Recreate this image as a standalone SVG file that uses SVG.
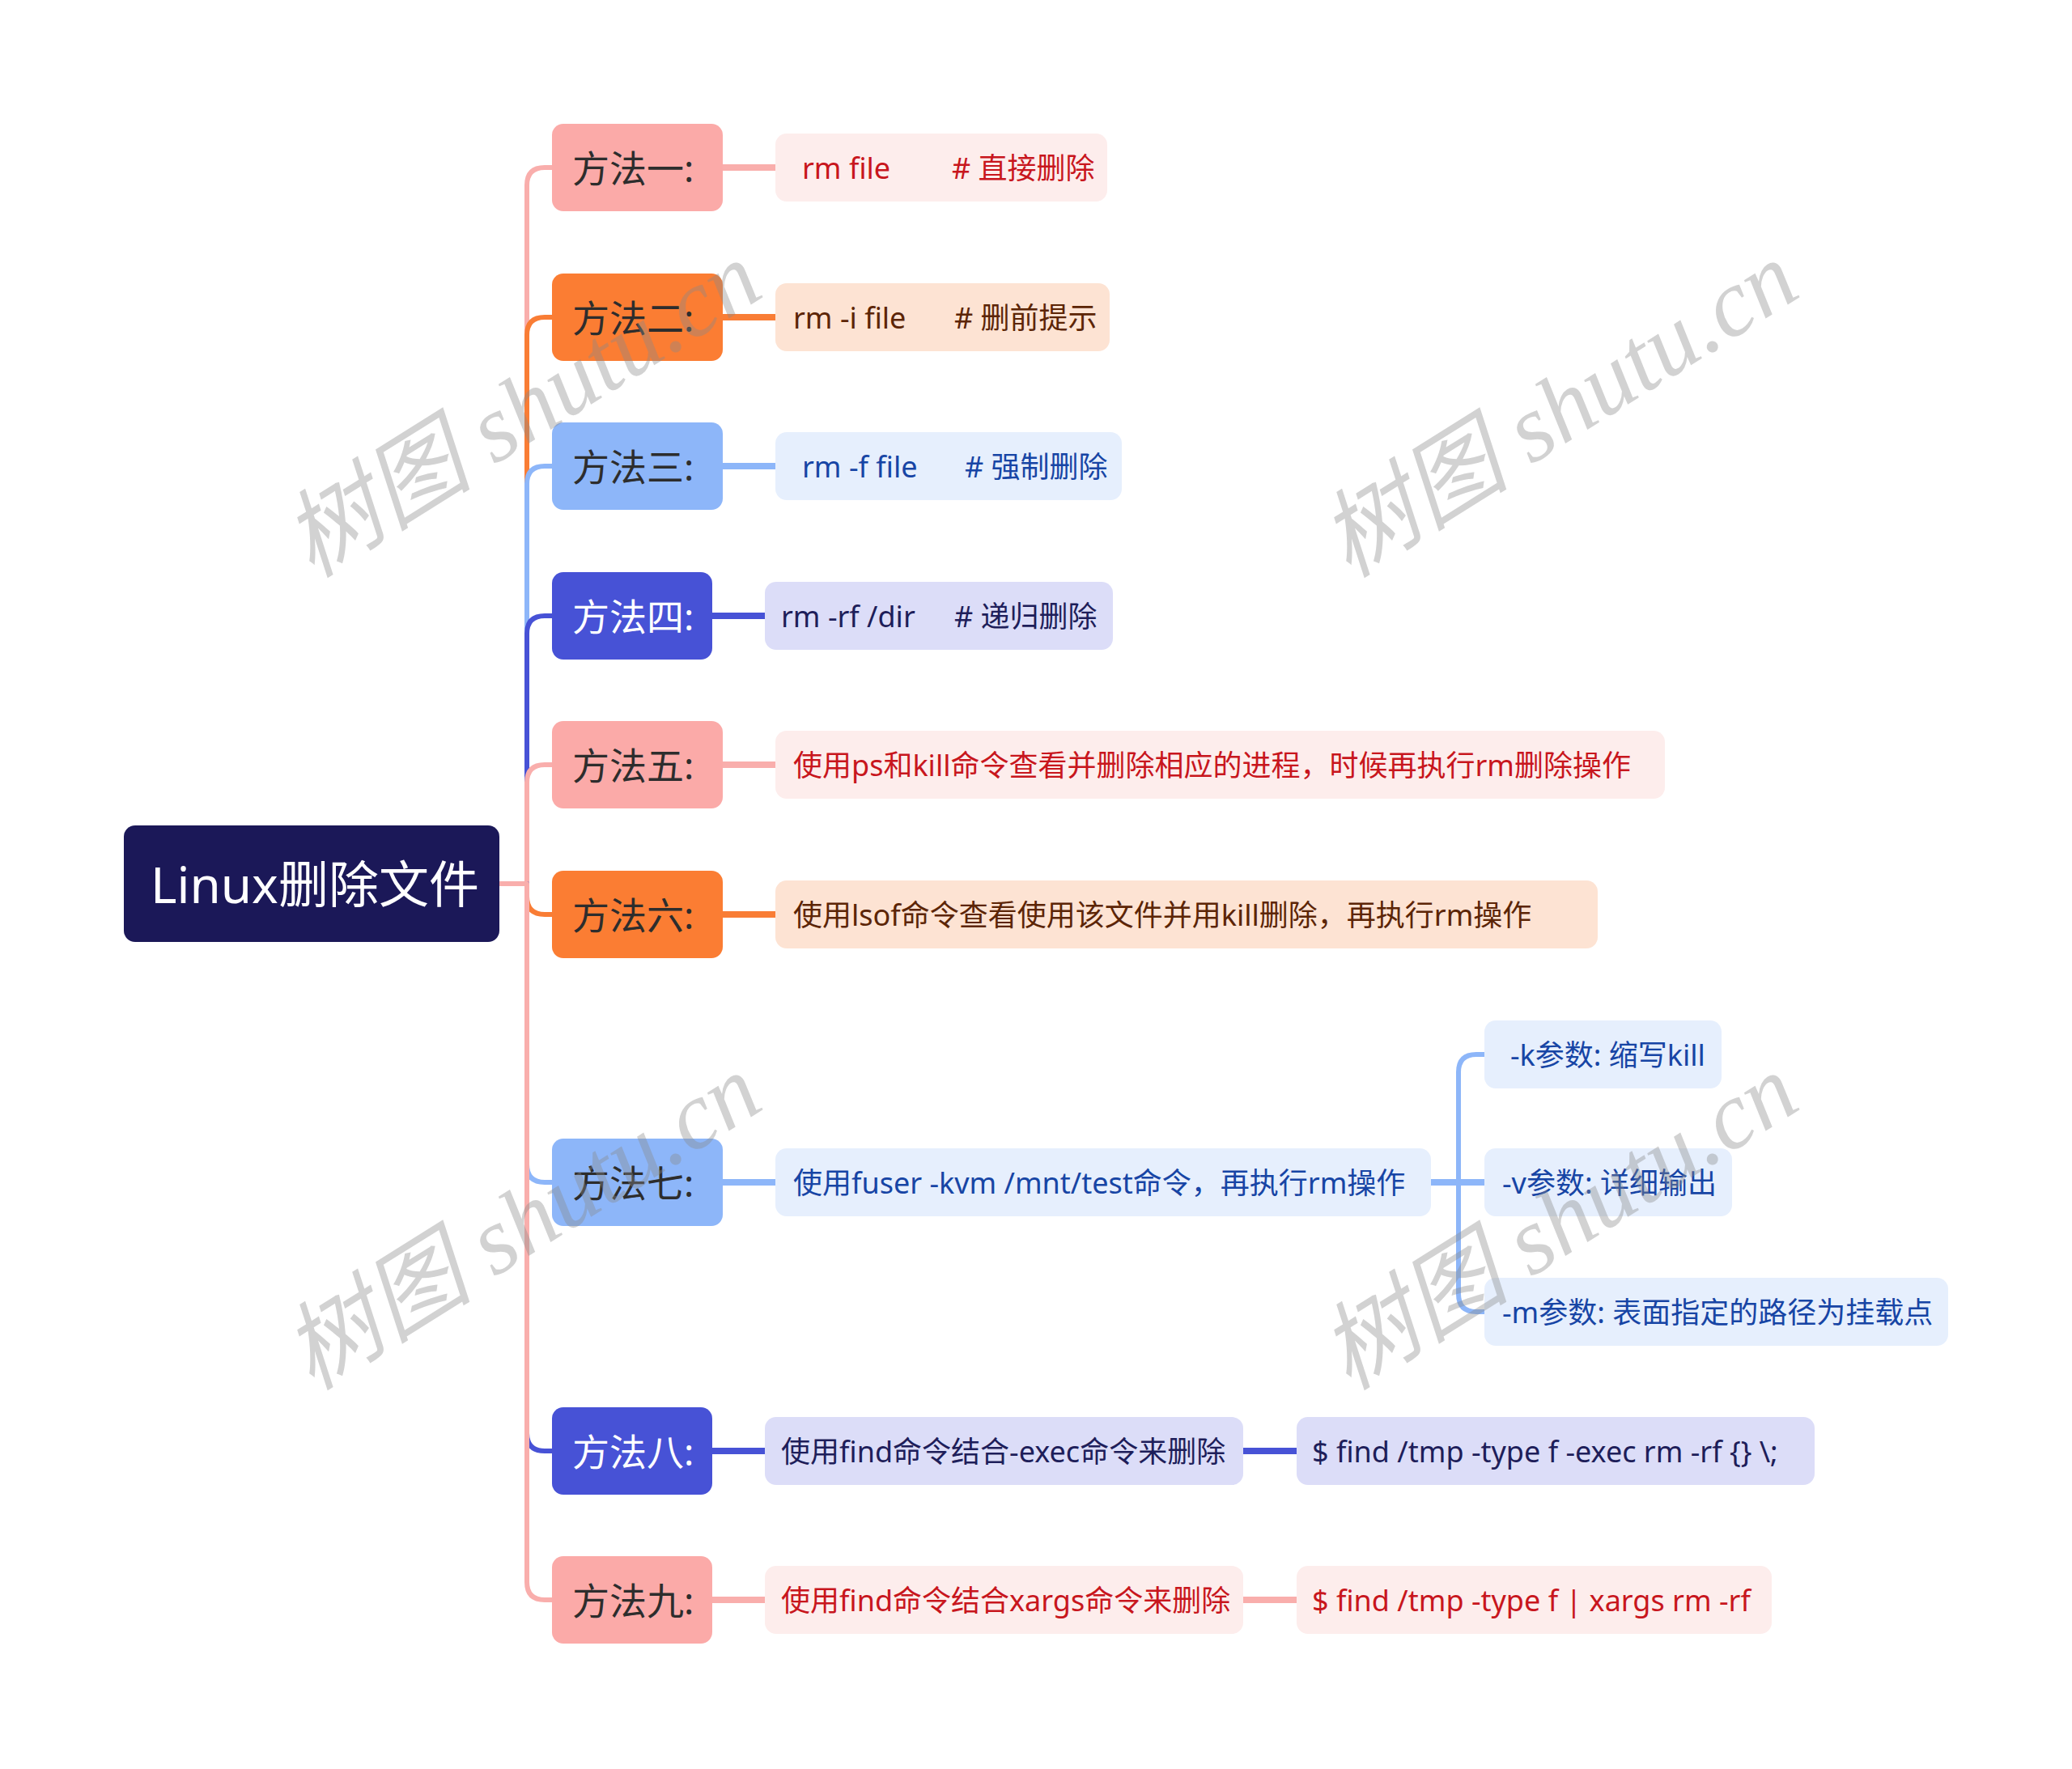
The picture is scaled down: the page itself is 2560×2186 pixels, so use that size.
<svg xmlns="http://www.w3.org/2000/svg" width="2560" height="2186" viewBox="0 0 2560 2186">
<style>
text{font-family:"Noto Sans","Noto Sans CJK SC",sans-serif;dominant-baseline:central;white-space:pre}
.l1{font-size:46px;fill:#2D2D2D}
.l1w{font-size:46px;fill:#FFFFFF}
.l2{font-size:36px}
.c{fill:none;stroke-linecap:round;stroke-linejoin:round}
.pk{stroke:#F9AEAC}.or{stroke:#F97D35}.bl{stroke:#8DB6F9}.in{stroke:#4752D6}
.t{stroke-width:6}.h{stroke-width:8}
.wm{font-family:"Liberation Serif","Noto Sans CJK SC",serif;font-size:118px;font-style:italic;fill:#8A8A8A;opacity:0.38;dominant-baseline:alphabetic}
</style>
<rect width="2560" height="2186" fill="#FFFFFF"/>
<g id="connectors">
<path class="c pk t" d="M617 1092H651V229Q651 207 673 207H682"/>
<path class="c or t" d="M617 1092H651V414Q651 392 673 392H682"/>
<path class="c bl t" d="M617 1092H651V598Q651 576 673 576H682"/>
<path class="c in t" d="M617 1092H651V783Q651 761 673 761H682"/>
<path class="c pk t" d="M617 1092H651V967Q651 945 673 945H682"/>
<path class="c or t" d="M617 1092H651V1108Q651 1130 673 1130H682"/>
<path class="c bl t" d="M617 1092H651V1439Q651 1461 673 1461H682"/>
<path class="c in t" d="M617 1092H651V1771Q651 1793 673 1793H682"/>
<path class="c pk t" d="M617 1092H651V1955Q651 1977 673 1977H682"/>
<path class="c pk h" d="M893 207H958"/>
<path class="c or h" d="M893 392H958"/>
<path class="c bl h" d="M893 576H958"/>
<path class="c in h" d="M880 761H945"/>
<path class="c pk h" d="M893 945H958"/>
<path class="c or h" d="M893 1130H958"/>
<path class="c bl h" d="M893 1461H958"/>
<path class="c in h" d="M880 1793H945"/>
<path class="c pk h" d="M880 1977H945"/>
<path class="c bl t" d="M1768 1461H1802V1325Q1802 1303 1824 1303H1834"/>
<path class="c bl h" d="M1768 1461H1834"/>
<path class="c bl t" d="M1768 1461H1802V1599Q1802 1621 1824 1621H1834"/>
<path class="c in h" d="M1536 1793H1602"/>
<path class="c pk h" d="M1536 1977H1602"/>
</g>
<g id="root"><rect x="153" y="1020" width="464" height="144" rx="14" fill="#1B1858"/><text x="186" y="1092" style="font-size:62px;fill:#FFFFFF">Linux删除文件</text></g>
<g id="m1"><rect x="682" y="153" width="211" height="108" rx="14" fill="#FBAAA8"/><text class="l1" x="707" y="207">方法一:</text></g>
<g id="m1c"><rect x="958" y="165" width="410" height="84" rx="14" fill="#FDEDEC"/><text class="l2" y="207" fill="#C8161D"><tspan x="991">rm file</tspan><tspan x="1176"># 直接删除</tspan></text></g>
<g id="m2"><rect x="682" y="338" width="211" height="108" rx="14" fill="#FB7D33"/><text class="l1" x="707" y="392">方法二:</text></g>
<g id="m2c"><rect x="958" y="350" width="413" height="84" rx="14" fill="#FDE3D3"/><text class="l2" y="392" fill="#5C2506"><tspan x="980">rm -i file</tspan><tspan x="1179"># 删前提示</tspan></text></g>
<g id="m3"><rect x="682" y="522" width="211" height="108" rx="14" fill="#8DB6F9"/><text class="l1" x="707" y="576">方法三:</text></g>
<g id="m3c"><rect x="958" y="534" width="428" height="84" rx="14" fill="#E6EFFD"/><text class="l2" y="576" fill="#1745A5"><tspan x="991">rm -f file</tspan><tspan x="1192"># 强制删除</tspan></text></g>
<g id="m4"><rect x="682" y="707" width="198" height="108" rx="14" fill="#4752D6"/><text class="l1w" x="707" y="761">方法四:</text></g>
<g id="m4c"><rect x="945" y="719" width="430" height="84" rx="14" fill="#DCDDF8"/><text class="l2" y="761" fill="#1E1E5A"><tspan x="965">rm -rf /dir</tspan><tspan x="1179"># 递归删除</tspan></text></g>
<g id="m5"><rect x="682" y="891" width="211" height="108" rx="14" fill="#FBAAA8"/><text class="l1" x="707" y="945">方法五:</text></g>
<g id="m5c"><rect x="958" y="903" width="1099" height="84" rx="14" fill="#FDEDEC"/><text class="l2" x="980" y="945" fill="#C8161D">使用ps和kill命令查看并删除相应的进程，时候再执行rm删除操作</text></g>
<g id="m6"><rect x="682" y="1076" width="211" height="108" rx="14" fill="#FB7D33"/><text class="l1" x="707" y="1130">方法六:</text></g>
<g id="m6c"><rect x="958" y="1088" width="1016" height="84" rx="14" fill="#FDE3D3"/><text class="l2" x="980" y="1130" fill="#5C2506">使用lsof命令查看使用该文件并用kill删除，再执行rm操作</text></g>
<g id="m7"><rect x="682" y="1407" width="211" height="108" rx="14" fill="#8DB6F9"/><text class="l1" x="707" y="1461">方法七:</text></g>
<g id="m7c"><rect x="958" y="1419" width="810" height="84" rx="14" fill="#E6EFFD"/><text class="l2" x="980" y="1461" fill="#1745A5">使用fuser -kvm /mnt/test命令，再执行rm操作</text></g>
<g id="m7k"><rect x="1834" y="1261" width="293" height="84" rx="14" fill="#E6EFFD"/><text class="l2" x="1866" y="1303" fill="#1745A5">-k参数: 缩写kill</text></g>
<g id="m7v"><rect x="1834" y="1419" width="306" height="84" rx="14" fill="#E6EFFD"/><text class="l2" x="1856" y="1461" fill="#1745A5">-v参数: 详细输出</text></g>
<g id="m7m"><rect x="1834" y="1579" width="573" height="84" rx="14" fill="#E6EFFD"/><text class="l2" x="1856" y="1621" fill="#1745A5">-m参数: 表面指定的路径为挂载点</text></g>
<g id="m8"><rect x="682" y="1739" width="198" height="108" rx="14" fill="#4752D6"/><text class="l1w" x="707" y="1793">方法八:</text></g>
<g id="m8c"><rect x="945" y="1751" width="591" height="84" rx="14" fill="#DCDDF8"/><text class="l2" x="965" y="1793" fill="#1E1E5A">使用find命令结合-exec命令来删除</text></g>
<g id="m8d"><rect x="1602" y="1751" width="640" height="84" rx="14" fill="#DCDDF8"/><text class="l2" x="1621" y="1793" fill="#1E1E5A">$ find /tmp -type f -exec rm -rf {} \;</text></g>
<g id="m9"><rect x="682" y="1923" width="198" height="108" rx="14" fill="#FBAAA8"/><text class="l1" x="707" y="1977">方法九:</text></g>
<g id="m9c"><rect x="945" y="1935" width="591" height="84" rx="14" fill="#FDEDEC"/><text class="l2" x="965" y="1977" fill="#C8161D">使用find命令结合xargs命令来删除</text></g>
<g id="m9d"><rect x="1602" y="1935" width="587" height="84" rx="14" fill="#FDEDEC"/><text class="l2" x="1621" y="1977" fill="#C8161D">$ find /tmp -type f | xargs rm -rf</text></g>
<g id="watermarks">
<text class="wm" transform="translate(645 506) rotate(-32)" text-anchor="middle" y="40">树图 shutu.cn</text>
<text class="wm" transform="translate(1926 506) rotate(-32)" text-anchor="middle" y="40">树图 shutu.cn</text>
<text class="wm" transform="translate(645 1510) rotate(-32)" text-anchor="middle" y="40">树图 shutu.cn</text>
<text class="wm" transform="translate(1926 1510) rotate(-32)" text-anchor="middle" y="40">树图 shutu.cn</text>
</g>
</svg>
